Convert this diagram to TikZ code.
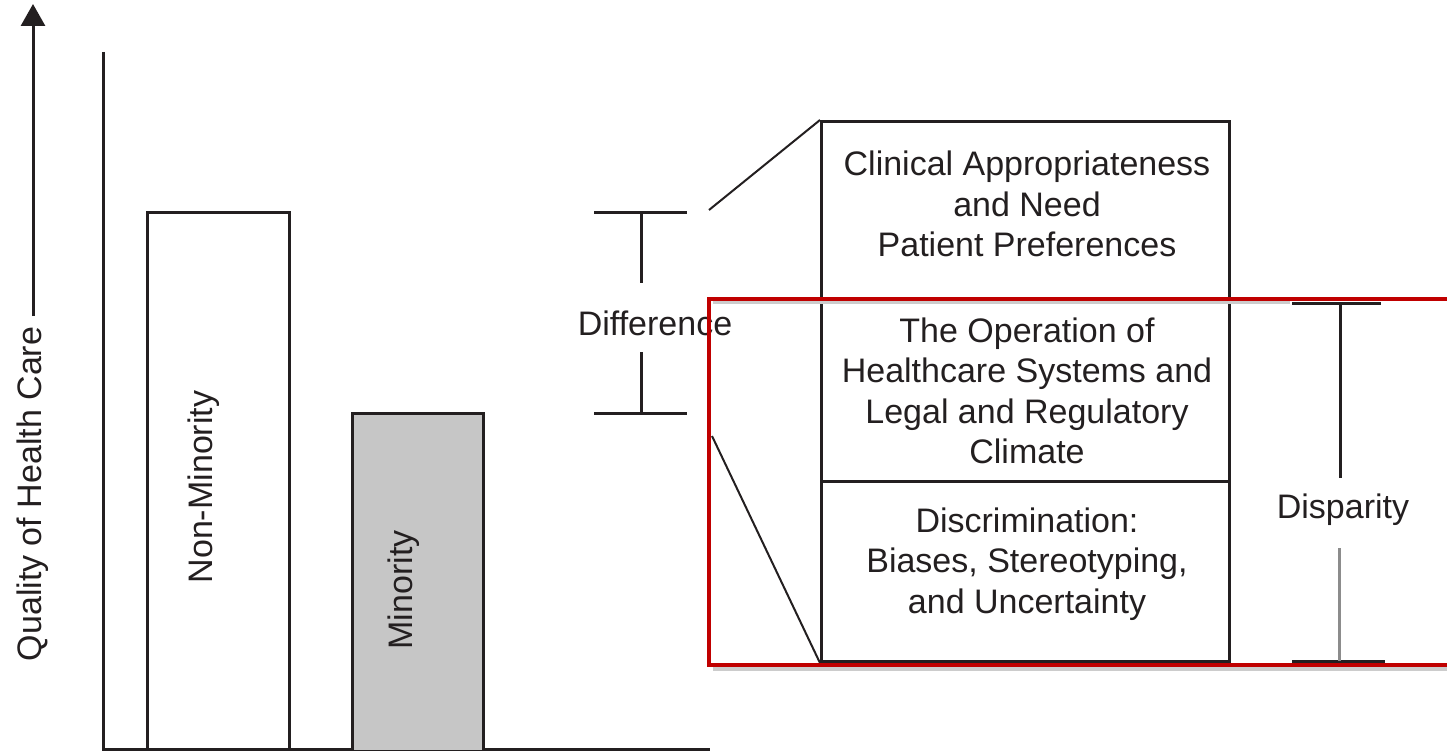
\documentclass[tikz,border=0pt]{standalone}
\usepackage{fontspec}
\setmainfont{Liberation Sans}
\usetikzlibrary{arrows.meta}
\definecolor{ink}{HTML}{231F20}
\definecolor{barfill}{HTML}{C6C6C6}
\definecolor{redframe}{HTML}{C00000}
\begin{document}
\begin{tikzpicture}[x=1pt,y=-1pt,
  line/.style={draw=ink,line width=3pt},
  thin/.style={draw=ink,line width=2pt},
  bar/.style={draw=ink,line width=3pt},
  lbl/.style={text=ink,font=\fontsize{34}{40.5}\selectfont,align=center,inner sep=0pt},
  box/.style={draw=ink,line width=3pt,minimum width=408pt,minimum height=180pt,inner sep=0pt,anchor=north west}]
\useasboundingbox (0,0) rectangle (1447,751);
% axes
\draw[line,-{Triangle[width=24pt,length=22pt]}] (33,316) -- (33,4);
\node[lbl,rotate=90] (ylab) at (33,494) {Quality of Health Care};
\draw[line] (103,52) -- (103,749) -- (710,749);
% bars
\draw[bar] (147,750) |- (289,213) -- (289,750);
\draw[bar,fill=barfill] (352,750) |- (483,413) -- (483,750);
\node[lbl,rotate=90] (nonmin) at (204,487) {Non-Minority};
\node[lbl,rotate=90] (min) at (404,590) {Minority};
% difference bracket
\coordinate (dtop) at (641,213);
\coordinate (dbot) at (641,413);
\draw[line] (594,213) -- (687,213);
\draw[line] (594,413) -- (687,413);
\node[lbl] (diff) at (655,323) {Difference};
\draw[line] (dtop) -- (641,283);
\draw[line] (641,352) -- (dbot);
% factor boxes
\node[box] (b1) at (820,120) {};
\node[box] (b2) at (820,300) {};
\node[box] (b3) at (820,480) {};
\node[lbl] (t1) at (1027,204) {Clinical Appropriateness\\and Need\\Patient Preferences};
\node[lbl] (t2) at (1027,391) {The Operation of\\Healthcare Systems and\\Legal and Regulatory\\Climate};
\node[lbl] (t3) at (1027,564) {Discrimination:\\Biases, Stereotyping,\\and Uncertainty};
% expansion lines
\coordinate (e1) at (709,210);
\coordinate (e2) at (712,436);
\draw[thin] (e1) -- (b1.north west);
\draw[thin] (e2) -- (b3.south west);
% disparity bracket
\draw[line] (1292,303.5) -- (1381,303.5);
\draw[line] (1292,661) -- (1385,661);
\node[lbl] (disp) at (1343,510) {Disparity};
\draw[line] (1340,303) -- (1340,478);
\draw[draw=gray!90,line width=3pt] (1339,548) -- (1339,661);
% highlight frame
\draw[draw=black!20,line width=3pt] (713,302.5) -- (1290,302.5);
\draw[draw=black!20,line width=4pt] (713,669) -- (1450,669);
\draw[draw=redframe,line width=4pt] (1460,298.5) -- (709,298.5) -- (709,665) -- (1460,665);
\end{tikzpicture}
\end{document}
